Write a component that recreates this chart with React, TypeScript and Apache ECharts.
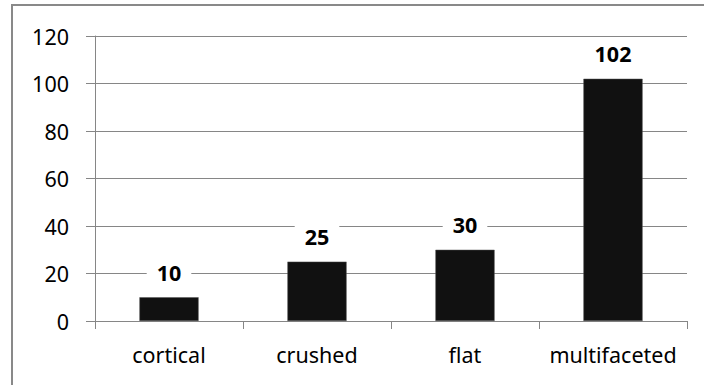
import React, { useEffect, useRef } from "react";
import * as echarts from "echarts";

const categories = ["cortical", "crushed", "flat", "multifaceted"];
const values = [10, 25, 30, 102];
const yTicks = [0, 20, 40, 60, 80, 100, 120];

export default function App() {
  const ref = useRef<HTMLDivElement>(null);
  useEffect(() => {
    document.body.style.margin = "0";
    const chart = echarts.init(ref.current!, null, { renderer: "svg" });
    chart.setOption({
      animation: false,
      backgroundColor: "#ffffff",
      graphic: [
        {
          type: "rect",
          shape: { x: 12, y: 5, width: 720, height: 420 },
          style: { fill: "none", stroke: "#898989", lineWidth: 2 },
          silent: true,
        },
      ],
      grid: { left: 95, right: 17, top: 36, bottom: 64, containLabel: false },
      xAxis: {
        type: "category",
        data: categories,
        axisLine: { lineStyle: { color: "#868686", width: 1 } },
        axisTick: { show: true, length: 8, lineStyle: { color: "#868686" } },
        axisLabel: {
          interval: 0,
          margin: 22,
          fontFamily: "Noto Sans",
          fontSize: 21.5,
          color: "#000000",
        },
      },
      yAxis: {
        type: "value",
        min: yTicks[0],
        max: yTicks[yTicks.length - 1],
        interval: 20,
        axisLine: { show: true, lineStyle: { color: "#868686", width: 1 } },
        axisTick: { show: true, length: 9, lineStyle: { color: "#868686" } },
        splitLine: { show: true, lineStyle: { color: "#868686", width: 1 } },
        axisLabel: {
          margin: 26,
          fontFamily: "Noto Sans",
          fontSize: 21.5,
          color: "#000000",
        },
      },
      series: [
        {
          type: "bar",
          data: values,
          barWidth: "40%",
          itemStyle: { color: "#111111", borderColor: "#555555", borderWidth: 0.5 },
          label: {
            show: true,
            position: "top",
            distance: 14,
            fontFamily: "Noto Sans",
            fontWeight: "bold",
            fontSize: 21.5,
            color: "#000000",
            backgroundColor: "#ffffff",
            padding: [0, 10, 0, 10],
          },
        },
      ],
    });
    return () => chart.dispose();
  }, []);
  return <div ref={ref} style={{ width: 704, height: 385 }} />;
}
